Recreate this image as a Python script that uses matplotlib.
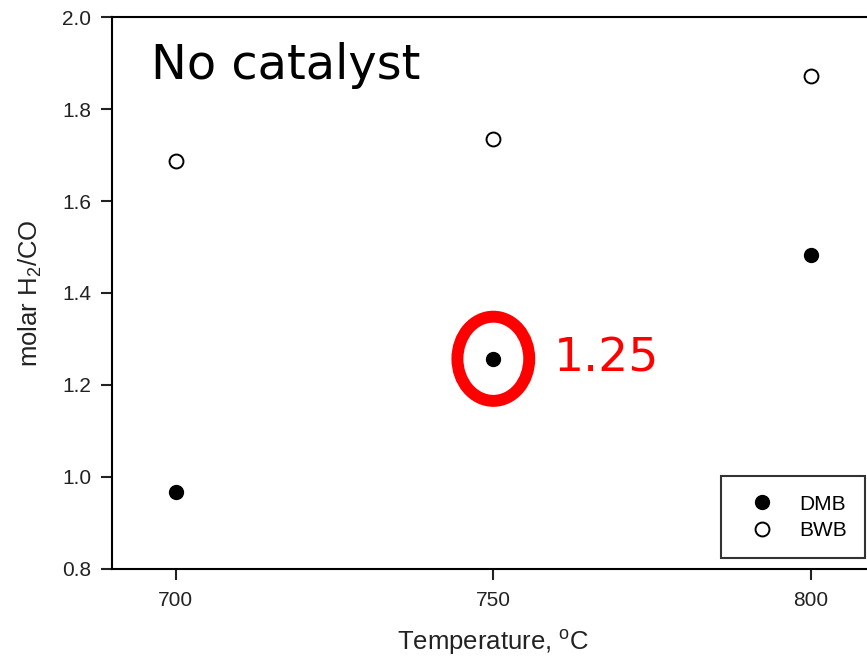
import matplotlib
matplotlib.use("Agg")
import matplotlib.pyplot as plt
from matplotlib.patches import Ellipse

# data
temps = [700, 750, 800]
dmb = [0.968, 1.257, 1.483]
bwb = [1.686, 1.734, 1.872]
y_ticks = [0.8, 1.0, 1.2, 1.4, 1.6, 1.8, 2.0]
note_value = "1.25"

plt.rcParams["font.family"] = ["Liberation Sans", "DejaVu Sans"]
plt.rcParams["mathtext.default"] = "regular"

fig = plt.figure(figsize=(8.67, 6.65), dpi=100)
ax = fig.add_axes([0.1292, 0.1444, 0.8796, 0.830])

ax.plot(temps, dmb, "o", ms=10, color="black", label="DMB")
ax.plot(temps, bwb, "o", ms=10, mfc="white", mec="black", mew=1.4, label="BWB")

ax.set_xlim(690, 810)
ax.set_ylim(0.8, 2.0)
ax.set_xticks(temps)
ax.set_yticks(y_ticks)
ax.set_yticklabels([f"{v:.1f}" for v in y_ticks])
ax.tick_params(direction="out", length=8, width=1.5, labelsize=15, colors="#222222")
ax.tick_params(axis="x", pad=8)
ax.tick_params(axis="y", pad=7)
for s in ax.spines.values():
    s.set_linewidth(1.5)
ax.spines["right"].set_visible(False)

ax.set_xlabel("Temperature, $^{o}$C", fontsize=18.5, labelpad=13, color="#222222")
ax.set_ylabel("molar H$_2$/CO", fontsize=18.5, labelpad=13, color="#222222")

ax.text(0.0505, 0.955, "No catalyst", transform=ax.transAxes, fontsize=34.5,
        family="DejaVu Sans", va="top", ha="left")

# red highlight around the 750 DMB point
ax.add_patch(Ellipse((temps[1], dmb[1]), 11.3, 0.183, fill=False,
                     ec="#ff0000", lw=8.6))
ax.annotate(note_value, (temps[1], dmb[1]), xytext=(43.5, 0),
            textcoords="offset points", fontsize=34, color="#ff0000",
            family="DejaVu Sans", va="center", ha="left")

leg = ax.legend(loc="lower right", bbox_to_anchor=(0.987, 0.02), fontsize=15,
                frameon=True, fancybox=False, edgecolor="black",
                borderaxespad=0, handletextpad=0.67, borderpad=0.87,
                labelspacing=0.35, handlelength=2.2)
leg.get_frame().set_linewidth(1.5)

fig.savefig("out.png", dpi=100)
